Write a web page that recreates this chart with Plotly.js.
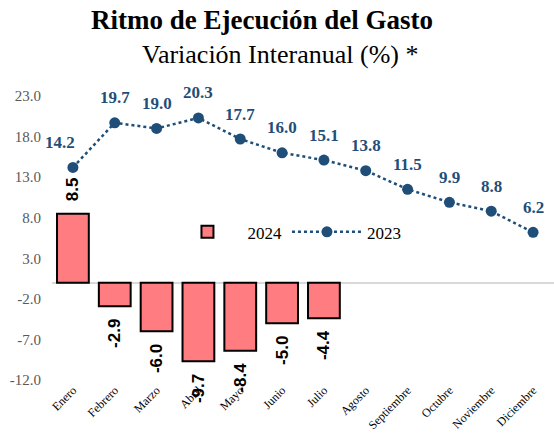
<!DOCTYPE html>
<html>
<head>
<meta charset="utf-8">
<script src="https://cdn.plot.ly/plotly-3.0.1.min.js"></script>
<style>
  html, body { margin: 0; padding: 0; background: #fff; }
  #chart { width: 554px; height: 437px; }
</style>
</head>
<body>
<div id="chart"></div>
<script>
const meses = ["Enero", "Febrero", "Marzo", "Abril", "Mayo", "Junio", "Julio",
  "Agosto", "Septiembre", "Octubre", "Noviembre", "Diciembre"];
const val2024 = [8.5, -2.9, -6.0, -9.7, -8.4, -5.0, -4.4];
const val2023 = [14.2, 19.7, 19.0, 20.3, 17.7, 16.0, 15.1, 13.8, 11.5, 9.9, 8.8, 6.2];
const yTicks = [23, 18, 13, 8, 3, -2, -7, -12];

const azul = "#1F4E79";
const serif = "'Liberation Serif', 'Times New Roman', serif";
const sans = "'Liberation Sans', Arial, sans-serif";
const pad = "\u00a0\u00a0";

const traces = [
  {
    type: "bar",
    x: meses.slice(0, val2024.length),
    y: val2024,
    name: "2024",
    width: 0.76,
    marker: { color: "#FF7C80", line: { color: "#000", width: 2 } },
    // etiquetas verticales fuera de la barra
    text: val2024.map((v) => (v >= 0 ? pad + v.toFixed(1) : v.toFixed(1) + pad)),
    textposition: "outside",
    textangle: -90,
    constraintext: "none",
    cliponaxis: false,
    outsidetextfont: { family: sans, size: 17, color: "#000", weight: "bold" },
  },
  {
    type: "scatter",
    x: meses,
    y: val2023,
    mode: "lines+markers",
    name: "2023",
    line: { color: azul, width: 2.5, dash: "dot" },
    marker: { color: azul, size: 11 },
  },
];

// etiquetas de la línea
const anotLinea = val2023.map((v, i) => ({
  x: meses[i],
  y: v,
  text: v.toFixed(1),
  showarrow: false,
  yanchor: "middle",
  yshift: 25,
  xshift: i === 0 ? -13 : 0,
  font: { family: serif, size: 17, color: azul, weight: "bold" },
}));

const layout = {
  width: 554,
  height: 437,
  margin: { l: 52, r: 0, t: 96, b: 57 },
  paper_bgcolor: "#fff",
  plot_bgcolor: "#fff",
  showlegend: true,
  legend: {
    orientation: "h",
    x: 0.23,
    y: 0.52,
    xanchor: "left",
    yanchor: "middle",
    font: { family: serif, size: 17, color: "#000" },
    bgcolor: "rgba(0,0,0,0)",
    itemwidth: 70,
  },
  xaxis: {
    type: "category",
    categoryarray: meses,
    range: [-0.5, meses.length - 0.5],
    tickangle: -45,
    automargin: false,
    tickfont: { family: serif, size: 12, color: "#000" },
    showgrid: false,
    showline: false,
    ticks: "",
    zeroline: false,
  },
  yaxis: {
    range: [-12, 23],
    automargin: false,
    tickvals: yTicks,
    ticktext: yTicks.map((t) => t.toFixed(1)),
    tickfont: { family: serif, size: 15, color: "#595959" },
    ticklabelstandoff: 10,
    showgrid: false,
    zeroline: true,
    zerolinecolor: "#D9D9D9",
    zerolinewidth: 2,
    showline: false,
    ticks: "",
  },
  annotations: [
    {
      xref: "paper", yref: "paper", x: 0.418, y: 1, yshift: 76,
      text: "Ritmo de Ejecución del Gasto", showarrow: false,
      font: { family: serif, size: 27, color: "#000", weight: "bold" },
      xanchor: "center", yanchor: "middle",
    },
    {
      xref: "paper", yref: "paper", x: 0.454, y: 1, yshift: 42,
      text: "Variación Interanual (%) *", showarrow: false,
      font: { family: serif, size: 26, color: "#000" },
      xanchor: "center", yanchor: "middle",
    },
    ...anotLinea,
  ],
};

Plotly.newPlot("chart", traces, layout, { displayModeBar: false, staticPlot: true });
</script>
</body>
</html>
